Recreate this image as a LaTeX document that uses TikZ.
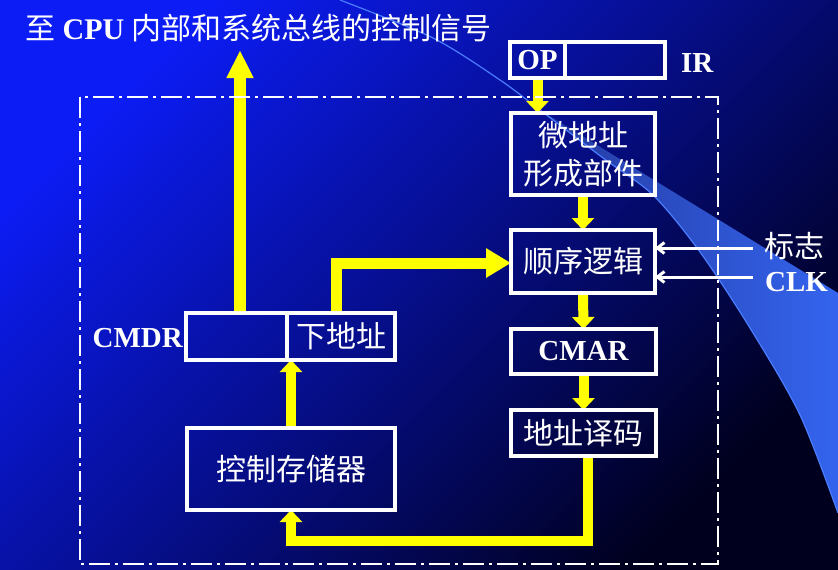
\documentclass[tikz,border=0pt]{standalone}
\usepackage{fontspec}
\setmainfont{Liberation Serif}
\newfontfamily\cjk{Noto Sans CJK SC}
\usetikzlibrary{arrows.meta}
\pgfdeclarelayer{back}
\pgfdeclarelayer{mid}
\pgfsetlayers{back,mid,main}
\definecolor{bgA}{RGB}{12,28,245}
\definecolor{bgB}{RGB}{0,0,200}
\definecolor{bgC}{RGB}{0,0,30}
\definecolor{bandA}{RGB}{36,58,160}
\definecolor{bandB}{RGB}{52,100,238}
\definecolor{swline}{RGB}{75,125,255}
\definecolor{yel}{RGB}{255,255,0}
\begin{document}
\begin{tikzpicture}[x=1pt,y=-1pt,
  blockbox/.style={draw=white, line width=3.2pt, inner sep=0pt, outer sep=0pt, anchor=north west, text=white, font=\cjk\fontsize{30}{38}\selectfont, align=center},
  lab/.style={text=white, inner sep=0pt, font=\bfseries\fontsize{29}{32}\selectfont},
  cjklab/.style={text=white, inner sep=0pt, font=\cjk\fontsize{30}{32}\selectfont},
  yarr/.style={draw=yel, line width=10pt, line join=miter, -{Triangle[length=12pt,width=22pt]}},
  yarrup/.style={draw=yel, line width=12pt, line join=miter, -{Triangle[length=28pt,width=25pt]}},
  yarrright/.style={draw=yel, line width=11pt, line join=miter, -{Triangle[length=25pt,width=28pt]}},
  warr/.style={draw=white, line width=3pt, -{Straight Barb[length=7pt,width=11pt]}},
  dashframe/.style={draw=white, line width=2pt, dash pattern=on 21pt off 5pt on 3pt off 5pt}
]
\useasboundingbox (0,0) rectangle (838,570);
\begin{pgfonlayer}{back}
  \shade[top color=bgA, middle color=bgB, bottom color=bgC, shading angle=45] (0,0) rectangle (838,570);
  \shade[left color=bandA, right color=bandB] (540,110) -- (838,293) -- (838,513)
     -- plot[smooth] coordinates {(838,513) (800,415) (750,328) (700,252) (653,195) (603,158) (540,110)} -- cycle;
  \draw[swline, line width=1.2pt] plot[smooth] coordinates {(340,0) (433,38) (500,80) (540,110) (603,158) (653,195) (700,252) (750,328) (800,415) (838,513)};
\end{pgfonlayer}

% frame
\draw[dashframe] (80,97) rectangle (718,564);

% title
\node[anchor=west, text=white, inner sep=0pt, font=\fontsize{30}{32}\selectfont] (title) at (25,28)
  {{\cjk 至} {\bfseries CPU} {\cjk 内部和系统总线的控制信号}};

% IR
\node[blockbox, lab, minimum width=55pt, minimum height=36pt] (op) at (510,42) {OP};
\node[blockbox, minimum width=100pt, minimum height=36pt] (irr) at (565,42) {};
\node[lab, anchor=west] (ir) at (681,63) {IR};

% right column
\node[blockbox, minimum width=144pt, minimum height=82pt] (micro) at (511,113) {微地址\\形成部件};
\node[blockbox, minimum width=144pt, minimum height=63pt] (seq) at (511,230) {顺序逻辑};
\node[blockbox, lab, minimum width=145pt, minimum height=45pt] (cmar) at (511,329) {CMAR};
\node[blockbox, minimum width=145pt, minimum height=46pt] (dec) at (511,410) {地址译码};

% left column
\node[blockbox, minimum width=208pt, minimum height=82pt] (cs) at (187,428) {控制存储器};
\node[blockbox, minimum width=101pt, minimum height=47pt] (cmdrl) at (186,313) {};
\node[blockbox, minimum width=108pt, minimum height=47pt] (cmdrr) at (287,313) {下地址};
\node[lab, anchor=east] (cmdr) at (183,338) {CMDR};

% side inputs
\node[cjklab, anchor=west] (flag) at (764,246) {标志};
\node[lab, anchor=west] (clk) at (765,282) {CLK};

\coordinate (b1) at (588,541);
\coordinate (t1) at (240,50);
\coordinate (c1) at (336,263);
\coordinate (f1) at (753,248);
\coordinate (f2) at (753,277);

\begin{pgfonlayer}{mid}
  \draw[yarr] (op.south) -- (op.south |- micro.north);
  \draw[yarr] (micro.south) -- (seq.north);
  \draw[yarr] (seq.south) -- (cmar.north);
  \draw[yarr] (cmar.south) -- (dec.north);
  \draw[yarr] (b1 |- dec.south) -- (b1) -- (b1 -| cs.south) -- (cs.south);
  \draw[yarr] (cs.north) -- (cs.north |- cmdrl.south);
  \draw[yarrup] (t1 |- cmdrl.north) -- (t1);
  \draw[yarrright] (c1 |- cmdrr.north) -- (c1) -- (c1 -| seq.west);
  \draw[warr] (f1) -- (f1 -| seq.east);
  \draw[warr] (f2) -- (f2 -| seq.east);
\end{pgfonlayer}
\end{tikzpicture}
\end{document}
